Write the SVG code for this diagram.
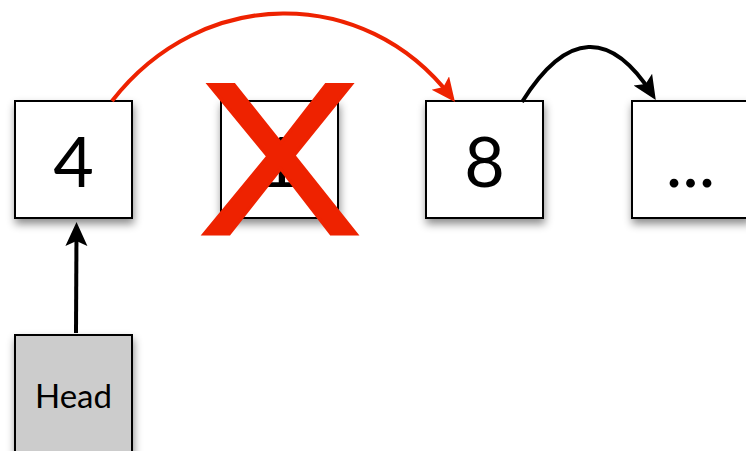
<svg xmlns="http://www.w3.org/2000/svg" width="746" height="451" viewBox="0 0 746 451">
<style>
.box{fill:#fff;stroke:#000;stroke-width:2;filter:url(#sh)}
.head{fill:#ccc;stroke:#000;stroke-width:2;filter:url(#sh)}
.num{font-family:Lato,"Open Sans",sans-serif;font-size:70px;text-anchor:middle;fill:#000}
.lbl{font-family:Lato,"Open Sans",sans-serif;font-size:33px;text-anchor:middle;fill:#000}
.blk{fill:none;stroke:#000;stroke-width:4}
.red{fill:none;stroke:#ee2200;stroke-width:4}
</style>
<defs>
<filter id="sh" x="-20%" y="-20%" width="140%" height="150%">
<feDropShadow dx="1" dy="5" stdDeviation="4" flood-color="#000" flood-opacity="0.45"/>
</filter>
<marker id="ab" markerUnits="userSpaceOnUse" markerWidth="26" markerHeight="24" refX="17" refY="11" orient="auto">
<path d="M0,0 L24,11 L0,22 L5,11 z" fill="#000"/>
</marker>
<marker id="ar" markerUnits="userSpaceOnUse" markerWidth="26" markerHeight="24" refX="17" refY="11" orient="auto">
<path d="M0,0 L24,11 L0,22 L5,11 z" fill="#ee2200"/>
</marker>
</defs>
<g id="node-4"><rect class="box" x="15" y="101" width="117" height="117"/><text class="num" x="73.5" y="187">4</text></g>
<g id="node-1"><rect class="box" x="221" y="101" width="117" height="117"/><text class="num" x="279.5" y="187" font-family="'Open Sans',sans-serif" font-size="68">1</text></g>
<g id="node-8"><rect class="box" x="426" y="101" width="117" height="117"/><text class="num" x="484.5" y="187">8</text></g>
<g id="node-more"><rect class="box" x="632" y="101" width="117" height="117"/><text class="num" x="690.5" y="187">...</text></g>
<g id="node-head"><rect class="head" x="15" y="335" width="117" height="130"/><text class="lbl" x="73.5" y="408">Head</text></g>
<g id="connectors">
<path class="red" d="M112,101 C202,-15 365,-15 450.7,96.5" marker-end="url(#ar)"/>
<path class="blk" d="M522,102 C567,30 611,30 652,94" marker-end="url(#ab)"/>
<path class="blk" d="M76,333 L76.5,229" marker-end="url(#ab)"/>
</g>
<g id="cross"><text x="280" y="234" transform="translate(280,0) scale(1.12,1) translate(-280,0)" font-family="'Liberation Sans',Arial,sans-serif" font-size="218" text-anchor="middle" fill="#ee2200" stroke="#ee2200" stroke-width="3">X</text></g>
</svg>
